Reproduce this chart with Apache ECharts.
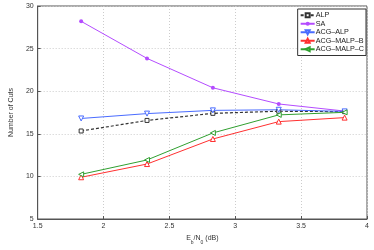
<!DOCTYPE html>
<html><head><meta charset="utf-8">
<script src="https://cdn.jsdelivr.net/npm/echarts@6/dist/echarts.min.js"></script>
<style>html,body{margin:0;padding:0;background:#fff}#c{width:374px;height:250px}</style>
</head><body><div id="c"></div>
<script>
const snr = [1.83, 2.33, 2.83, 3.33, 3.83];
const alp = [15.33, 16.57, 17.4, 17.65, 17.6];
const sa = [28.2, 23.85, 20.4, 18.5, 17.67];
const acgAlp = [16.8, 17.37, 17.75, 17.82, 17.63];
const acgMalpB = [9.9, 11.45, 14.39, 16.43, 16.9];
const acgMalpC = [10.24, 11.93, 15.1, 17.22, 17.52];
const xTicks = [1.5, 2, 2.5, 3, 3.5, 4];
const yTicks = [5, 10, 15, 20, 25, 30];

const pairs = a => snr.map((x, i) => [x, a[i]]);
const chart = echarts.init(document.getElementById('c'), null, {renderer: 'canvas'});
const font = 'Liberation Sans';
function s(name, data, color, symbol, opts) {
  return Object.assign({
    name, type: 'line', data: pairs(data), symbol, symbolSize: 5,
    lineStyle: {color, width: 1},
    itemStyle: {color: '#fff', borderColor: color, borderWidth: 1},
    color, animation: false
  }, opts || {});
}
chart.setOption({
  animation: false,
  textStyle: {fontFamily: font},
  grid: {left: 26, right: 7, top: 6, bottom: 23, show: true, borderColor: '#555', borderWidth: 1, backgroundColor: '#fff'},
  legend: {
    orient: 'vertical', right: 8, top: 9, itemWidth: 14, itemHeight: 5, itemGap: 0,
    padding: [2, 2, 2, 2], borderColor: '#333', borderWidth: 1, backgroundColor: '#fff',
    textStyle: {fontSize: 7.2, color: '#222', fontFamily: font, padding: [0, 0, 0, -4], lineHeight: 8.5},
    data: ['ALP', 'SA', 'ACG\u2013ALP', 'ACG\u2013MALP\u2013B', 'ACG\u2013MALP\u2013C']
  },
  xAxis: {
    type: 'value', min: xTicks[0], max: xTicks[xTicks.length - 1], interval: 0.5,
    axisLine: {lineStyle: {color: '#555'}},
    axisTick: {inside: true, length: 3, lineStyle: {color: '#555'}},
    axisLabel: {fontSize: 7, color: '#333', margin: 4, fontFamily: font},
    splitLine: {show: true, lineStyle: {color: '#ccc', type: [1, 2], width: 1}},
    name: '{n|E}{s|b}{n|/N}{s|0}{n| (dB)}', nameLocation: 'middle', nameGap: 16,
    nameTextStyle: {rich: {n: {fontSize: 7, color: '#333', fontFamily: font, lineHeight: 10, verticalAlign: 'top'}, s: {fontSize: 5, color: '#333', fontFamily: font, lineHeight: 10, padding: [4, 0, 0, 0], verticalAlign: 'bottom'}}}
  },
  yAxis: {
    type: 'value', min: yTicks[0], max: yTicks[yTicks.length - 1], interval: 5,
    axisLine: {lineStyle: {color: '#555'}},
    axisTick: {inside: true, length: 3, lineStyle: {color: '#555'}},
    axisLabel: {fontSize: 7, color: '#333', margin: 4, fontFamily: font},
    splitLine: {show: true, lineStyle: {color: '#ccc', type: [1, 2], width: 1}},
    name: 'Number of Cuts', nameLocation: 'middle', nameGap: 17,
    nameTextStyle: {fontSize: 7, color: '#333', fontFamily: font}
  },
  series: [
    s('ALP', alp, '#333', 'rect', {symbolSize: 4, lineStyle: {color: '#333', width: 1.2, type: [3, 2]}}),
    s('SA', sa, '#b44cff', 'circle', {symbolSize: 4, itemStyle: {color: '#b44cff'}}),
    s('ACG\u2013ALP', acgAlp, '#4a6cff', 'triangle', {symbolRotate: 180}),
    s('ACG\u2013MALP\u2013B', acgMalpB, '#ff3030', 'triangle'),
    s('ACG\u2013MALP\u2013C', acgMalpC, '#30a030', 'triangle', {symbolRotate: 90})
  ]
});
</script></body></html>
